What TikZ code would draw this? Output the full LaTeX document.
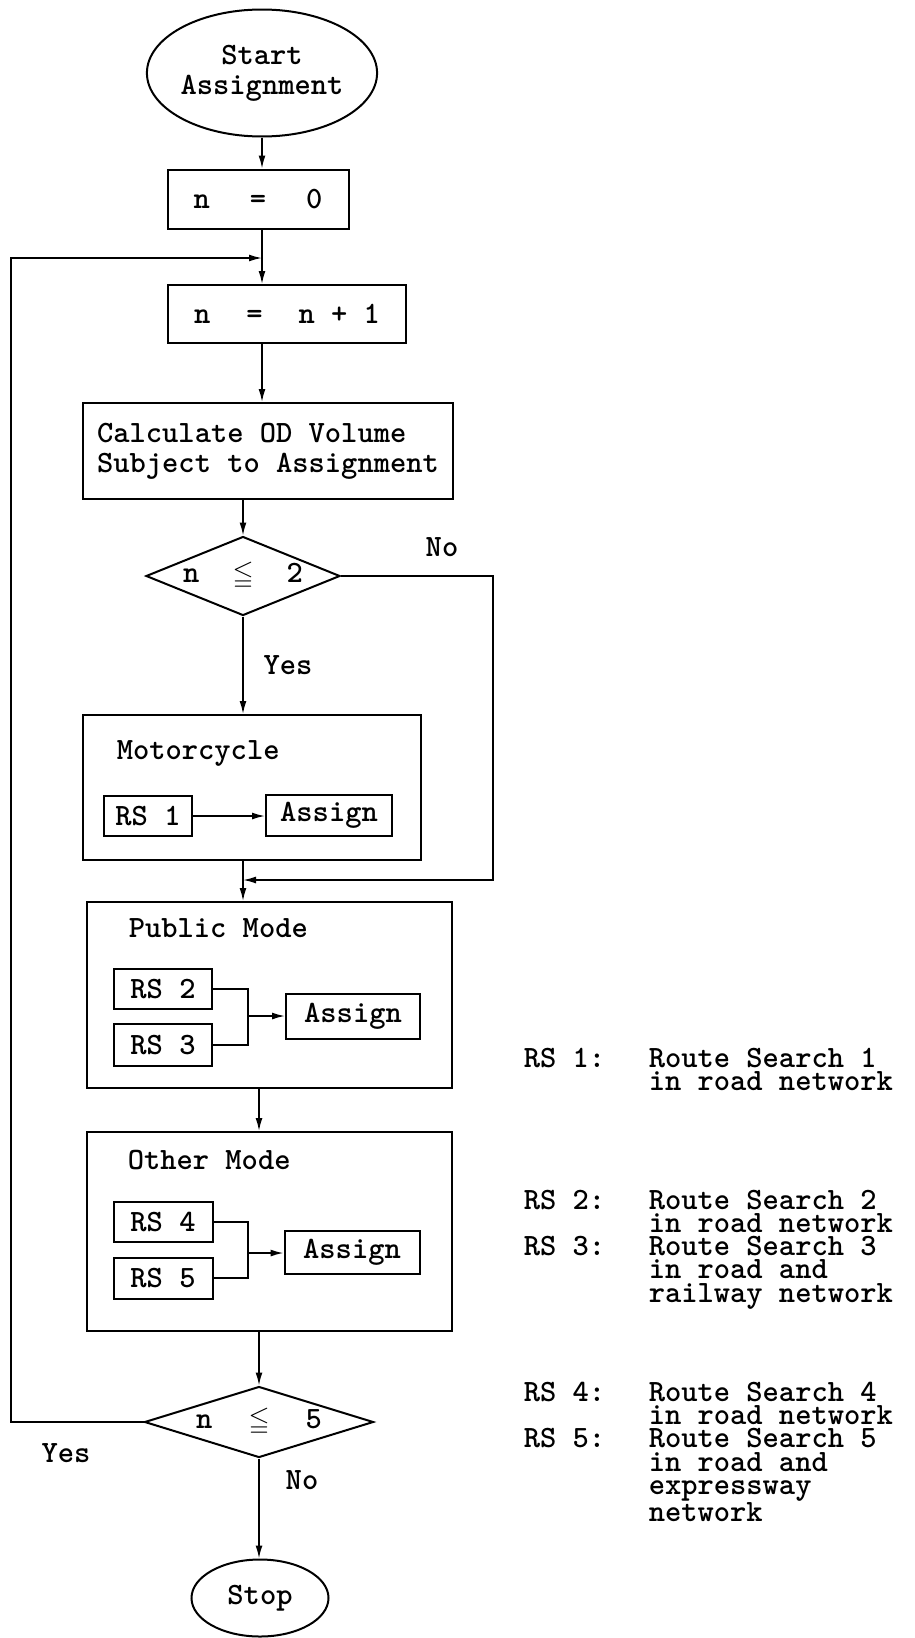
\documentclass[tikz,border=0pt]{standalone}
\usepackage{xcolor}
\usepackage{amsmath}
\usepackage{amssymb}
\usepackage{tikz}
\usetikzlibrary{positioning,calc,shapes.geometric,arrows.meta}

\newcommand{\leqsign}{{\fontsize{27}{27}\selectfont$\boldsymbol{\leqq}$}}

\begin{document}
\begin{tikzpicture}[
    x=1pt, y=-1pt,
    font=\ttfamily\bfseries\fontsize{31}{30}\selectfont,
    line width=1.6pt,
    >={Latex[length=13pt,width=7pt]},
    term/.style={draw, ellipse, line width=2pt, inner sep=0pt, align=center},
    box/.style={draw, line width=2pt, inner sep=0pt, align=center},
    group/.style={draw, line width=2pt, inner sep=0pt},
    small/.style={draw, line width=2pt, inner sep=0pt},
    decision/.style={draw, diamond, line width=2pt, inner sep=0pt},
    tag/.style={inner sep=0pt},
    legend/.style={inner sep=0pt, align=left, font=\ttfamily\bfseries\fontsize{31}{23.3}\selectfont}
]
\useasboundingbox (0,0) rectangle (914,1638);

% Start and counter
\node (start) [term, minimum width=220pt, minimum height=127pt] at (262,73) {Start\\Assignment};
\node (init) [box, minimum width=181pt, minimum height=59pt] at (258,199) {n\hspace{40pt}=\hspace{40pt}0};
\node (incr) [box, minimum width=238pt, minimum height=58pt] at (287,314) {n\hspace{36pt}=\hspace{36pt}n + 1};
\coordinate (back) at (262,258);

\draw[->] (start.south) -- (start.south |- init.north);
\draw (init.south -| back) -- (back);
\draw[->] (back) -- (back |- incr.north);

% OD volume
\node (calcod) [box, align=left, minimum width=370pt, minimum height=96pt] at (268,451) {Calculate OD Volume\\Subject to Assignment};
\draw[->] (incr.south -| back) -- (back |- calcod.north);

% First check
\node (check1) [decision, aspect=2.46, minimum width=194pt, minimum height=79pt] at (243,576) {n\hspace{33pt}\leqsign\hspace{33pt}2};
\node (no1) [tag] at (442,547) {No};
\node (yes1) [tag] at (288,665) {Yes};
\draw[->] (calcod.south -| check1.north) -- (check1.north);

% Motorcycle
\node (moto) [group, minimum width=338pt, minimum height=145pt] at (252,787.5) {};
\node (motolbl) [tag, anchor=west] at (116,753) {Motorcycle};
\node (rs1) [small, minimum width=88pt, minimum height=40pt] at (148,816) {RS 1};
\node (asg1) [small, minimum width=126pt, minimum height=41pt] at (329,815) {Assign};
\draw[->] (rs1.east) -- (rs1.east -| asg1.west);
\draw[->] (check1.south) -- (check1.south |- moto.north);

% Merge of the No branch
\coordinate (merge) at (243,880);
\coordinate (noright) at (493,880);
\draw (moto.south -| merge) -- (merge);
\draw[->] (check1.east) -| (noright) -- (merge);

% Public mode
\node (public) [group, minimum width=365pt, minimum height=186pt] at (269.5,995) {};
\node (publbl) [tag, anchor=west] at (128,928) {Public Mode};
\node (rs2) [small, minimum width=98pt, minimum height=40pt] at (163,989) {RS 2};
\node (rs3) [small, minimum width=98pt, minimum height=42pt] at (163,1045) {RS 3};
\node (asg2) [small, minimum width=134pt, minimum height=45pt] at (353,1016) {Assign};
\coordinate (join2) at (248,1016);
\draw (rs2.east) -| (join2) |- (rs3.east);
\draw[->] (join2) -- (join2 -| asg2.west);
\draw[->] (merge) -- (merge |- public.north);

% Other mode
\node (other) [group, minimum width=365pt, minimum height=199pt] at (269.5,1231.5) {};
\node (othlbl) [tag, anchor=west] at (127,1160) {Other Mode};
\node (rs4) [small, minimum width=99pt, minimum height=40pt] at (163,1222) {RS 4};
\node (rs5) [small, minimum width=99pt, minimum height=41pt] at (163,1278) {RS 5};
\node (asg3) [small, minimum width=135pt, minimum height=43pt] at (352,1252) {Assign};
\coordinate (join3) at (248,1253);
\draw (rs4.east) -| (join3) |- (rs5.east);
\draw[->] (join3) -- (join3 -| asg3.west);

% Second check
\node (check2) [decision, aspect=3.2, minimum width=229pt, minimum height=71pt] at (259,1422) {n\hspace{36pt}\leqsign\hspace{36pt}5};
\node (yes2) [tag] at (66,1453) {Yes};
\node (no2) [tag] at (302,1480) {No};
\node (stop) [term, minimum width=137pt, minimum height=77pt] at (260,1598) {Stop};
\coordinate (leftturn) at (11,1424);

\draw[->] (public.south -| check2.north) -- (check2.north |- other.north);
\draw[->] (other.south -| check2.north) -- (check2.north);
\draw[->] (check2.south) -- (check2.south |- stop.north);
\draw[->] (check2.west) -- (check2.west -| leftturn) |- (back);

% Legend
\node (k1) [legend, anchor=base west] at (523,1067) {RS 1:};
\node (d1) [legend, anchor=north west, xshift=42pt] at (k1.north east) {Route Search 1\\in road network};
\node (k23) [legend, anchor=north west] at (523,1189) {RS 2:\\[23.3pt]RS 3:};
\node (d23) [legend, anchor=north west, xshift=42pt] at (k23.north east) {Route Search 2\\in road network\\Route Search 3\\in road and\\railway network};
\node (k45) [legend, anchor=north west] at (523,1381) {RS 4:\\[23.3pt]RS 5:};
\node (d45) [legend, anchor=north west, xshift=42pt] at (k45.north east) {Route Search 4\\in road network\\Route Search 5\\in road and\\expressway\\network};

\end{tikzpicture}
\end{document}
